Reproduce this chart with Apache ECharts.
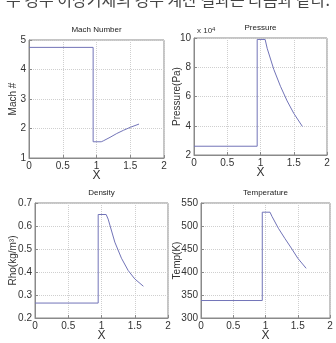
<!DOCTYPE html>
<html>
<head>
<meta charset="UTF-8">
<script type="text/javascript" src="https://cdn.jsdelivr.net/npm/echarts@6/dist/echarts.min.js"></script>
<title>Shock result</title>
<style>
html, body { margin: 0; padding: 0; background: #fff; }
#main { width: 336px; height: 343px; }
</style>
</head>
<body>
<div id="main"></div>
<script type="text/javascript">
	// x positions along the duct (shock near x = 0.95)
	var xPos = [0, 0.95, 0.95, 1.07, 1.1, 1.2, 1.3, 1.4, 1.5, 1.63];
	var mach = [4.75, 4.75, 1.55, 1.55, 1.58, 1.70, 1.83, 1.94, 2.04, 2.15];
	var pressure = [26000, 26000, 99000, 99000, 93000, 78500, 67000, 57000, 48500, 39500];
	var density = [0.265, 0.265, 0.65, 0.65, 0.63, 0.53, 0.46, 0.407, 0.37, 0.338];
	var temp = [338, 338, 530, 530, 521, 495, 473, 452, 430, 408];

	var titles = ['Mach Number', 'Pressure', 'Density', 'Temperature'];
	var yNames = ['Mach #', 'Pressure(Pa)', 'Rho(kg/m³)', 'Temp(K)'];
	var yMin = [1, 20000, 0.2, 300];
	var yMax = [5, 100000, 0.7, 550];
	var yStep = [1, 20000, 0.1, 50];

	var FONT = '"Liberation Sans Narrow", "Liberation Sans", Arial, sans-serif';
	var lineColor = '#7274b8';
	var boxes = [
		{left: 29, top: 40, width: 135, height: 118},
		{left: 194, top: 38, width: 133, height: 117},
		{left: 35, top: 203, width: 133, height: 116},
		{left: 201, top: 203, width: 129, height: 115}
	];
	var yGaps = [11, 12, 17, 19];

	function pairs(ys){
		var out = [];
		for(var i in xPos){
			out.push([xPos[i], ys[i]]);
		}
		return out;
	}

	var grids = [], xAxes = [], yAxes = [], series = [], graphics = [];
	var allY = [mach, pressure, density, temp];
	for(var k = 0; k < 4; k++){
		var b = boxes[k];
		grids.push({
			left: b.left, top: b.top, width: b.width, height: b.height,
			show: true, borderColor: '#8a8a8a', borderWidth: 1, backgroundColor: 'transparent'
		});
		xAxes.push({
			type: 'value', gridIndex: k, min: 0, max: 2, interval: 0.5,
			name: 'X', nameLocation: 'middle', nameGap: 12, nameMoveOverlap: false,
			nameTextStyle: {color: '#333', fontSize: 12, fontFamily: FONT},
			axisLine: {lineStyle: {color: '#8a8a8a'}},
			axisTick: {inside: true, length: 3, lineStyle: {color: '#8a8a8a'}},
			axisLabel: {color: '#333', fontSize: 10, fontFamily: FONT, margin: 3},
			splitLine: {show: true, lineStyle: {color: '#cfcfcf', type: 'dotted'}}
		});
		yAxes.push({
			type: 'value', gridIndex: k, min: yMin[k], max: yMax[k], interval: yStep[k],
			name: yNames[k], nameLocation: 'middle', nameGap: yGaps[k], nameRotate: 90,
			nameMoveOverlap: false,
			nameTextStyle: {color: '#333', fontSize: 10, fontFamily: FONT},
			axisLine: {lineStyle: {color: '#8a8a8a'}},
			axisTick: {inside: true, length: 3, lineStyle: {color: '#8a8a8a'}},
			axisLabel: {
				color: '#333', fontSize: 10, fontFamily: FONT, margin: 3,
				formatter: k == 1 ? function(v){ return v / 10000; } : null
			},
			splitLine: {show: true, lineStyle: {color: '#cfcfcf', type: 'dotted'}}
		});
		series.push({
			type: 'line', xAxisIndex: k, yAxisIndex: k,
			data: pairs(allY[k]), showSymbol: false, animation: false,
			lineStyle: {color: lineColor, width: 1}
		});
		graphics.push({
			type: 'text', x: b.left + b.width / 2, y: b.top - 10,
			style: {text: titles[k], fill: '#222', font: '8px ' + FONT, textAlign: 'center', textVerticalAlign: 'middle'}
		});
	}
	// exponent note over pressure axis
	graphics.push({
		type: 'text', x: 197, y: 31,
		style: {
			text: 'x 10{s|4}', font: '8px ' + FONT, fill: '#333', textVerticalAlign: 'middle',
			rich: {s: {fontSize: 6, verticalAlign: 'top', padding: [0, 0, 4, 0]}}
		}
	});
	// cropped sentence above the figure
	graphics.push({
		type: 'text', x: 168, y: 0,
		style: {
			text: '두 경우 이상기체의 경우 계산 결과는 다음과 같다.',
			font: '16px "Noto Sans CJK KR", sans-serif', fill: '#444',
			textAlign: 'center', textVerticalAlign: 'middle'
		}
	});

	var myChart = echarts.init(document.getElementById('main'));
	myChart.setOption({
		animation: false,
		backgroundColor: '#fff',
		grid: grids,
		xAxis: xAxes,
		yAxis: yAxes,
		series: series,
		graphic: graphics
	});
</script>
</body>
</html>
